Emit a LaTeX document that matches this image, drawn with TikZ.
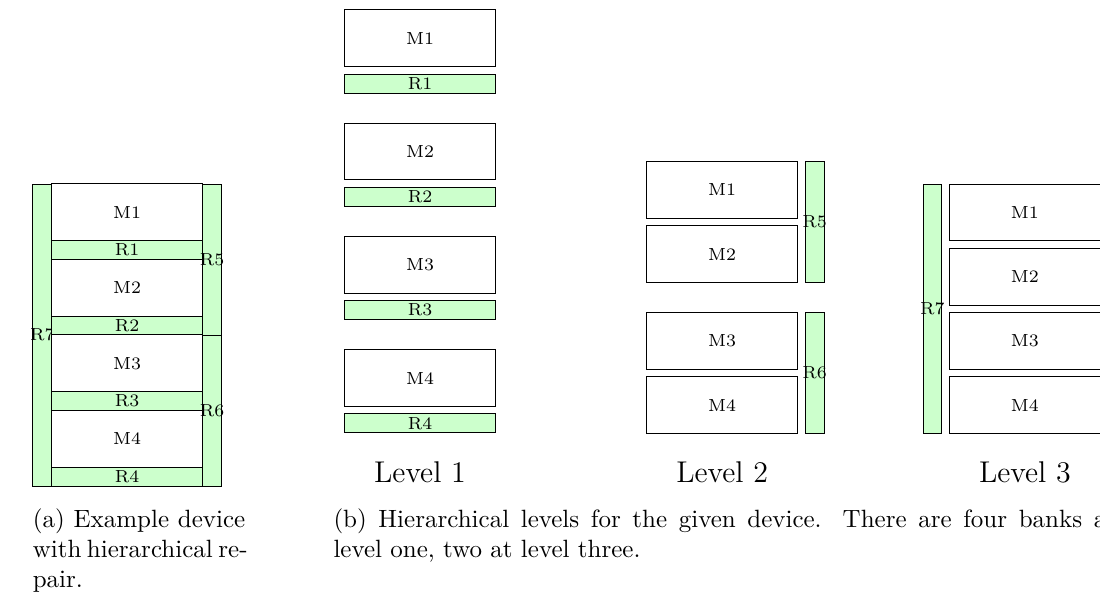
\documentclass[tikz,border=0pt]{standalone}
\definecolor{rgreen}{RGB}{204,255,204}
\tikzset{
  mbox/.style={draw=black, line width=0.4pt, minimum width=60.4pt, minimum height=22.65pt, inner sep=0pt, font=\scriptsize},
  hrbox/.style={draw=black, fill=rgreen, line width=0.4pt, minimum width=60.4pt, minimum height=7.55pt, inner sep=0pt, font=\scriptsize},
  vrbox/.style={draw=black, fill=rgreen, line width=0.4pt, minimum width=7.55pt, minimum height=#1, inner sep=0pt},
  lbl/.style={font=\scriptsize, inner sep=0pt},
  levellbl/.style={font=\large, anchor=base, inner sep=0pt},
  capline/.style={anchor=base west, inner sep=0pt, font=\normalsize},
}
\begin{document}
\begin{tikzpicture}[x=0.4pt, y=-0.4pt]
\useasboundingbox (0,0) rectangle (1100,595);
% ---------- (a) example device ----------
\node[vrbox=120.8pt, label={[lbl]center:R7}] (aR7) at (42.25,335) {};
\node[mbox]  (aM1) at (127.2,212.3)  {M1};
\node[hrbox] (aR1) at (127.2,250.05) {R1};
\node[mbox]  (aM2) at (127.2,287.8)  {M2};
\node[hrbox] (aR2) at (127.2,325.55) {R2};
\node[mbox]  (aM3) at (127.2,363.3)  {M3};
\node[hrbox] (aR3) at (127.2,401.05) {R3};
\node[mbox]  (aM4) at (127.2,438.8)  {M4};
\node[hrbox] (aR4) at (127.2,476.55) {R4};
\node[vrbox=60.4pt, label={[lbl]center:R5}] (aR5) at (212.15,259.5) {};
\node[vrbox=60.4pt, label={[lbl]center:R6}] (aR6) at (212.15,410.5) {};
% ---------- Level 1 ----------
\node[mbox]  (aM1l) at (420,38.3)   {M1};
\node[hrbox] (aR1l) at (420,83.65)  {R1};
\node[mbox]  (aM2l) at (420,151.55) {M2};
\node[hrbox] (aR2l) at (420,196.9)  {R2};
\node[mbox]  (aM3l) at (420,264.8)  {M3};
\node[hrbox] (aR3l) at (420,310.15) {R3};
\node[mbox]  (aM4l) at (420,378.05) {M4};
\node[hrbox] (aR4l) at (420,423.4)  {R4};
\node[levellbl] (lev1) at (420,482.3) {Level 1};
% ---------- Level 2 ----------
\node[mbox] (bM1) at (722.2,190)    {M1};
\node[mbox] (bM2) at (722.2,254.15) {M2};
\node[mbox] (bM3) at (722.2,340.95) {M3};
\node[mbox] (bM4) at (722.2,405.1)  {M4};
\node[vrbox=48.3pt, label={[lbl]center:R5}] (bR5) at (814.65,222.075) {};
\node[vrbox=48.3pt, label={[lbl]center:R6}] (bR6) at (814.65,373.025) {};
\node[levellbl] (lev2) at (722.2,482.3) {Level 2};
% ---------- Level 3 ----------
\node[vrbox=99.62pt, label={[lbl]center:R7}] (cR7) at (932.45,308.875) {};
\node[mbox] (cM1) at (1024.9,212.65) {M1};
\node[mbox] (cM2) at (1024.9,276.8)  {M2};
\node[mbox] (cM3) at (1024.9,340.95) {M3};
\node[mbox] (cM4) at (1024.9,405.1)  {M4};
\node[levellbl] (lev3) at (1024.9,482.3) {Level 3};
% ---------- captions ----------
\node[capline] (capa1) at (32.3,527) {\makebox[85pt][s]{(a) Example device}};
\node[capline] (capa2) at (32.3,557) {\makebox[85pt][s]{with hierarchical re-}};
\node[capline] (capa3) at (32.3,587) {pair.};
\node[capline] (capb1) at (333,527) {\makebox[313pt][s]{(b) Hierarchical levels for the given device. There are four banks at}};
\node[capline] (capb2) at (333,557) {level one, two at level three.};
\end{tikzpicture}
\end{document}
